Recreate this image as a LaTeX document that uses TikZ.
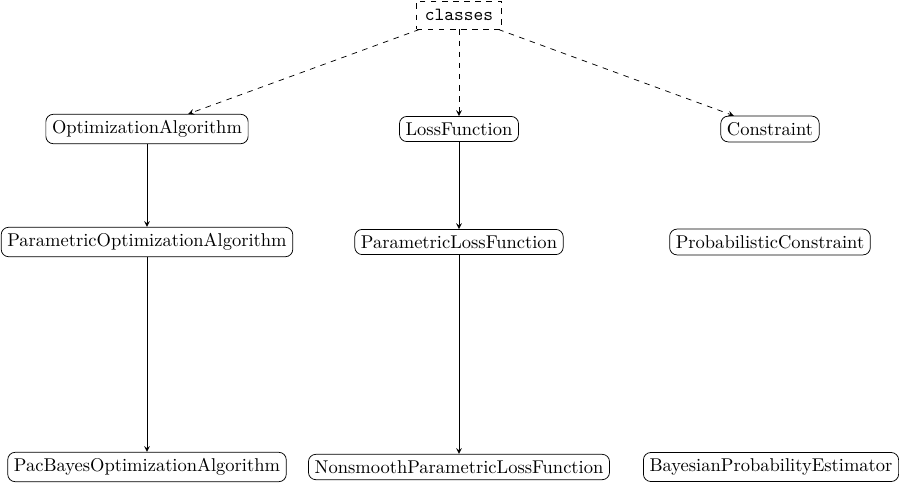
\documentclass[tikz,border=0pt]{standalone}
\usepackage{amsmath}
\usepackage{tikz}
\usetikzlibrary{arrows}

\tikzset{
	classbox/.style={draw,rounded corners=4pt,inner sep=3.33pt},
	rootbox/.style={draw,dashed,inner sep=4.5pt,font=\ttfamily},
	inherit/.style={-stealth},
	member/.style={-stealth,dashed}
}

\begin{document}
\begin{tikzpicture}[x=0.54pt,y=0.54pt,yscale=-1,xscale=1]
		\useasboundingbox (0,0) rectangle (900,484);
		
		% Root Node
		\node [rootbox] (classes) at (459,15) {classes};
		
		% Text Node
		\node [classbox] (optalg) at (147,129) {OptimizationAlgorithm};
		% Text Node
		\node [classbox] (loss) at (459,129) {LossFunction};
		% Text Node
		\node [classbox] (constr) at (770,129) {Constraint};
		% Text Node
		\node [classbox] (paropt) at (147,242) {ParametricOptimizationAlgorithm};
		% Text Node
		\node [classbox] (parloss) at (459,242) {ParametricLossFunction};
		% Text Node
		\node [classbox] (probconstr) at (770,242) {ProbabilisticConstraint};
		% Text Node
		\node [classbox] (pacbayes) at (147,467) {PacBayesOptimizationAlgorithm};
		% Text Node
		\node [classbox] (nonsmooth) at (459,467) {NonsmoothParametricLossFunction};
		% Text Node
		\node [classbox] (bayesest) at (771,467) {BayesianProbabilityEstimator};
		
		% Connection
		\draw [member] (classes) -- (optalg);
		\draw [member] (classes) -- (loss);
		\draw [member] (classes) -- (constr);
		% Connection
		\draw [inherit] (optalg) -- (paropt);
		\draw [inherit] (paropt) -- (pacbayes);
		% Connection
		\draw [inherit] (loss) -- (parloss);
		\draw [inherit] (parloss) -- (nonsmooth);
		
\end{tikzpicture}
\end{document}
